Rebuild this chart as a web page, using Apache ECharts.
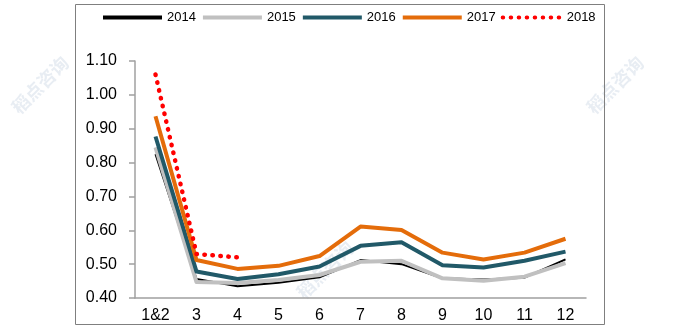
<!DOCTYPE html>
<html>
<head>
<meta charset="utf-8">
<script src="https://cdn.jsdelivr.net/npm/echarts@6/dist/echarts.min.js"></script>
<style>html,body{margin:0;padding:0;background:#fff}#c{width:680px;height:330px}</style>
</head>
<body>
<div id="c"></div>
<script>
var categories = ['1&2','3','4','5','6','7','8','9','10','11','12'];
var yTicks = [0.40,0.50,0.60,0.70,0.80,0.90,1.00,1.10];
var s2014 = [0.825,0.456,0.435,0.445,0.461,0.512,0.500,0.458,0.455,0.460,0.514];
var s2015 = [0.845,0.447,0.444,0.453,0.468,0.507,0.510,0.458,0.451,0.463,0.503];
var s2016 = [0.877,0.478,0.456,0.470,0.493,0.554,0.565,0.497,0.490,0.510,0.537];
var s2017 = [0.937,0.512,0.486,0.495,0.524,0.611,0.601,0.534,0.514,0.534,0.575];
var s2018 = [1.060,0.530,0.520,null,null,null,null,null,null,null,null];

var chart = echarts.init(document.getElementById('c'), null, {renderer:'canvas'});
var font = 'Liberation Sans, Arial, sans-serif';
function line(name, data, color, width, type) {
  return {
    name: name, type: 'line', data: data, symbol: 'none', showSymbol: false, connectNulls: false,
    lineStyle: {color: color, width: width, type: type || 'solid', cap: type ? 'round' : 'butt', join: 'round'},
    itemStyle: {color: color},
    animation: false
  };
}
var wm = [];
[[40,85],[325,270],[615,85]].forEach(function(p){
  wm.push({type:'text', x:p[0], y:p[1], rotation: Math.PI/4, z:-1,
    style:{text:'稻点咨询', fill:'rgba(180,195,215,0.3)', font:'bold 18px "Noto Sans CJK SC"', align:'center', verticalAlign:'middle'}});
});
wm.push({type:'rect', shape:{x:75.5, y:4.5, width:529, height:320}, style:{fill:'none', stroke:'#7f7f7f', lineWidth:1}, z:10});
chart.setOption({
  animation: false,
  backgroundColor: '#fff',
  textStyle: {fontFamily: font},
  graphic: wm,
  legend: {
    left: 96, top: 6, itemWidth: 59, itemHeight: 12, itemGap: 5,
    itemStyle: {opacity: 0},
    lineStyle: {width: 4},
    textStyle: {fontSize: 13, color: '#000', fontFamily: font},
    data: ['2014','2015','2016','2017','2018']
  },
  grid: {left: 135, right: 94, top: 61, bottom: 32},
  xAxis: {
    type: 'category', data: categories, boundaryGap: true,
    axisLine: {lineStyle: {color: '#a0a0a0', width: 1.5}},
    axisTick: {inside: true, length: 5, lineStyle: {color: '#a0a0a0', width: 1.5}},
    axisLabel: {fontSize: 16, color: '#000', margin: 10, fontFamily: font}
  },
  yAxis: {
    type: 'value', min: 0.4, max: 1.1, interval: 0.1,
    axisLine: {show: true, lineStyle: {color: '#a0a0a0', width: 1.5}},
    axisTick: {show: true, length: 6, lineStyle: {color: '#a0a0a0', width: 1.5}},
    splitLine: {show: false},
    axisLabel: {fontSize: 16, color: '#000', margin: 18, fontFamily: font,
      formatter: function(v){ var t = yTicks.find(function(x){return Math.abs(x-v)<1e-6;}); return (t!==undefined?t:v).toFixed(2); }}
  },
  series: [
    line('2014', s2014, '#000000', 2),
    line('2015', s2015, '#c0c0c0', 4),
    line('2016', s2016, '#215968', 4),
    line('2017', s2017, '#e46c0a', 4),
    line('2018', s2018, '#ff0000', 4.5, [0.5, 7.5])
  ]
});
</script>
</body>
</html>
